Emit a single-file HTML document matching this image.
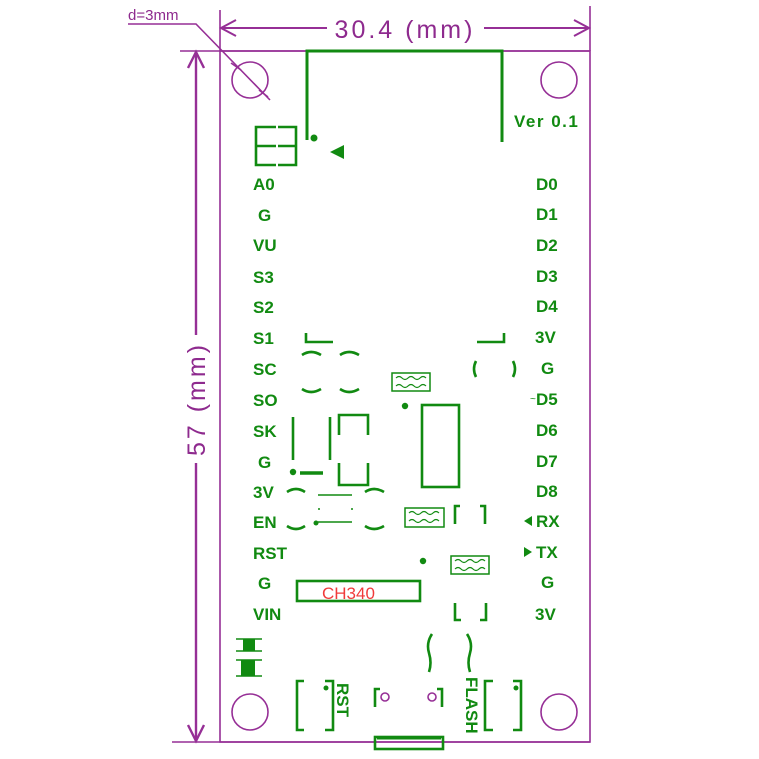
<!DOCTYPE html>
<html><head><meta charset="utf-8"><style>
html,body{margin:0;padding:0;background:#fff;width:759px;height:759px;overflow:hidden}
svg{display:block}
.g{font-family:"Liberation Sans",sans-serif;font-weight:bold;font-size:17px;fill:#118a11}
.p{font-family:"Liberation Sans",sans-serif;fill:#8e2a8e}
</style></head><body>
<svg width="759" height="759" viewBox="0 0 759 759" xmlns="http://www.w3.org/2000/svg">
<g stroke="#962f96" fill="none" stroke-width="1.6">
 <rect x="220" y="51" width="370" height="691"/>
 <line x1="180" y1="51" x2="590" y2="51"/>
 <line x1="172" y1="742" x2="590" y2="742"/>
 <line x1="220" y1="10" x2="220" y2="51"/>
 <line x1="590" y1="6" x2="590" y2="51"/>
 <line x1="221" y1="28" x2="327" y2="28" stroke-width="2"/>
 <line x1="484" y1="28" x2="589" y2="28" stroke-width="2"/>
 <polyline points="236,20 221,28 236,36" stroke-width="2"/>
 <polyline points="574,20 589,28 574,36" stroke-width="2"/>
 <line x1="196" y1="52" x2="196" y2="335" stroke-width="2.4"/>
 <line x1="196" y1="463" x2="196" y2="741" stroke-width="2.4"/>
 <polyline points="188,68 196,52 204,68" stroke-width="2.4"/>
 <polyline points="188,725 196,741 204,725" stroke-width="2.4"/>
 <polyline points="128,24 196,24 270,100"/>
 <line x1="231" y1="63" x2="241" y2="70"/>
 <line x1="259" y1="90" x2="268" y2="97"/>
 <circle cx="250" cy="80" r="18"/>
 <circle cx="559" cy="80" r="18"/>
 <circle cx="250" cy="712" r="18"/>
 <circle cx="559" cy="712" r="18"/>
 <circle cx="385" cy="697" r="4"/>
 <circle cx="432" cy="697" r="4"/>
</g>
<text class="p" x="128" y="20" font-size="15">d=3mm</text>
<text class="p" x="405" y="38" font-size="25" text-anchor="middle" letter-spacing="3">30.4 (mm)</text>
<text class="p" font-size="25" text-anchor="middle" transform="translate(205,399) rotate(-90)" letter-spacing="3">57 (mm)</text>

<g stroke="#118a11" fill="none" stroke-width="2.6">
 <polyline points="307,140 307,51 502,51 502,142" stroke-width="3"/>
 <polyline points="276,127 256,127 256,165 276,165"/><line x1="256" y1="146" x2="276" y2="146"/>
 <polyline points="278,127 296,127 296,165 278,165"/><line x1="278" y1="146" x2="296" y2="146"/>
 <polyline points="306,333 306,342 333,342"/>
 <polyline points="477,342 504,342 504,333"/>
 <path d="M302,355 Q311,349 321,355 M340,355 Q349,349 359,355 M302,389 Q311,395 321,389 M340,389 Q349,395 359,389"/>
 <path d="M476,361 Q472,369 476,377 M513,361 Q517,369 513,377"/>
 <path d="M392,373 h38 v18 h-38 z" stroke-width="1.5"/>
 <path d="M396,378 q3,-3 6,0 q3,3 6,0 q3,-3 6,0 q3,3 6,0 q3,-3 6,0 M396,386 q3,-3 6,0 q3,3 6,0 q3,-3 6,0 q3,3 6,0 q3,-3 6,0" stroke-width="1.2"/>
 <rect x="422" y="405" width="37" height="82"/>
 <line x1="293" y1="417" x2="293" y2="460"/>
 <line x1="330" y1="417" x2="330" y2="460"/>
 <polyline points="339,435 339,415 368,415 368,435"/>
 <polyline points="339,463 339,485 368,485 368,463"/>
 <line x1="300" y1="473" x2="323" y2="473" stroke-width="3.5"/>
 <path d="M287,492 Q296,486 305,492 M365,492 Q374,486 384,492 M287,526 Q296,532 305,526 M365,526 Q374,532 384,526"/>
 <line x1="318" y1="495" x2="352" y2="495" stroke-width="1.5"/>
 <line x1="318" y1="522" x2="352" y2="522" stroke-width="1.5"/>
 <path d="M405,508 h39 v19 h-39 z" stroke-width="1.5"/>
 <path d="M409,513 q3,-3 6,0 q3,3 6,0 q3,-3 6,0 q3,3 6,0 q3,-3 6,0 M409,521 q3,-3 6,0 q3,3 6,0 q3,-3 6,0 q3,3 6,0 q3,-3 6,0" stroke-width="1.2"/>
 <polyline points="455,524 455,506 460,506"/>
 <polyline points="480,506 485,506 485,524"/>
 <path d="M451,556 h38 v18 h-38 z" stroke-width="1.5"/>
 <path d="M455,561 q3,-3 6,0 q3,3 6,0 q3,-3 6,0 q3,3 6,0 q3,-3 6,0 M455,569 q3,-3 6,0 q3,3 6,0 q3,-3 6,0 q3,3 6,0 q3,-3 6,0" stroke-width="1.2"/>
 <rect x="297" y="581" width="123" height="20"/>
 <polyline points="455,603 455,620 461,620"/>
 <polyline points="480,620 486,620 486,603"/>
 <path d="M432,634 Q426,643 429,653 Q432,663 429,672 M467,634 Q473,643 470,653 Q467,663 470,672"/>
 <path d="M236,639 h26 M236,651 h26 M236,660 h26 M236,676 h26" stroke-width="1.5"/>
 <rect x="243" y="639" width="12" height="12" fill="#118a11" stroke="none"/>
 <rect x="241" y="660" width="14" height="16" fill="#118a11" stroke="none"/>
 <polyline points="304,681 297,681 297,730 304,730"/>
 <polyline points="325,681 333,681 333,730 325,730"/>
 <polyline points="493,681 485,681 485,730 493,730"/>
 <polyline points="513,681 521,681 521,730 513,730"/>
 <polyline points="380,689 375,689 375,707"/>
 <polyline points="437,689 442,689 442,707"/>
 <rect x="375" y="737" width="68" height="12"/>
 <line x1="377" y1="738" x2="441" y2="738" stroke-width="3"/>
</g>
<g fill="#118a11">
 <circle cx="314" cy="138" r="3.5"/>
 <polygon points="330,152 344,145 344,159"/>
 <circle cx="405" cy="406" r="3.2"/>
 <circle cx="293" cy="472" r="3.2"/>
 <circle cx="316" cy="523" r="2.5"/>
 <circle cx="423" cy="561" r="3.2"/>
 <circle cx="326" cy="688" r="2.5"/>
 <circle cx="516" cy="688" r="2.5"/>
 <circle cx="319" cy="509" r="1"/><circle cx="352" cy="509" r="1"/>
 <polygon points="524,521 532,516 532,526"/>
 <polygon points="532,552 524,547 524,557"/>
</g>
<text class="g" x="514" y="127" letter-spacing="1.5">Ver 0.1</text>
<g class="g">
<text x="253" y="190">A0</text><text x="258" y="221">G</text><text x="253" y="251">VU</text>
<text x="253" y="283">S3</text><text x="253" y="313">S2</text><text x="253" y="344">S1</text>
<text x="253" y="375">SC</text><text x="253" y="406">SO</text><text x="253" y="437">SK</text>
<text x="258" y="468">G</text><text x="253" y="498">3V</text><text x="253" y="528">EN</text>
<text x="253" y="559">RST</text><text x="258" y="589">G</text><text x="253" y="620">VIN</text>
<text x="536" y="190">D0</text><text x="536" y="220">D1</text><text x="536" y="251">D2</text>
<text x="536" y="282">D3</text><text x="536" y="312">D4</text><text x="535" y="343">3V</text>
<text x="541" y="374">G</text><text x="536" y="405">D5</text><text x="536" y="436">D6</text>
<text x="536" y="467">D7</text><text x="536" y="497">D8</text><text x="536" y="527">RX</text>
<text x="536" y="558">TX</text><text x="541" y="588">G</text><text x="535" y="620">3V</text>
<text transform="translate(337,683) rotate(90)">RST</text>
<text transform="translate(466,677) rotate(90)">FLASH</text>
</g>
<text x="530" y="402" font-size="10" fill="#118a11" font-family="Liberation Sans,sans-serif">~</text>
<text x="322" y="599" font-size="17" fill="#f03a3a" font-family="Liberation Sans,sans-serif">CH340</text>
</svg>
</body></html>
